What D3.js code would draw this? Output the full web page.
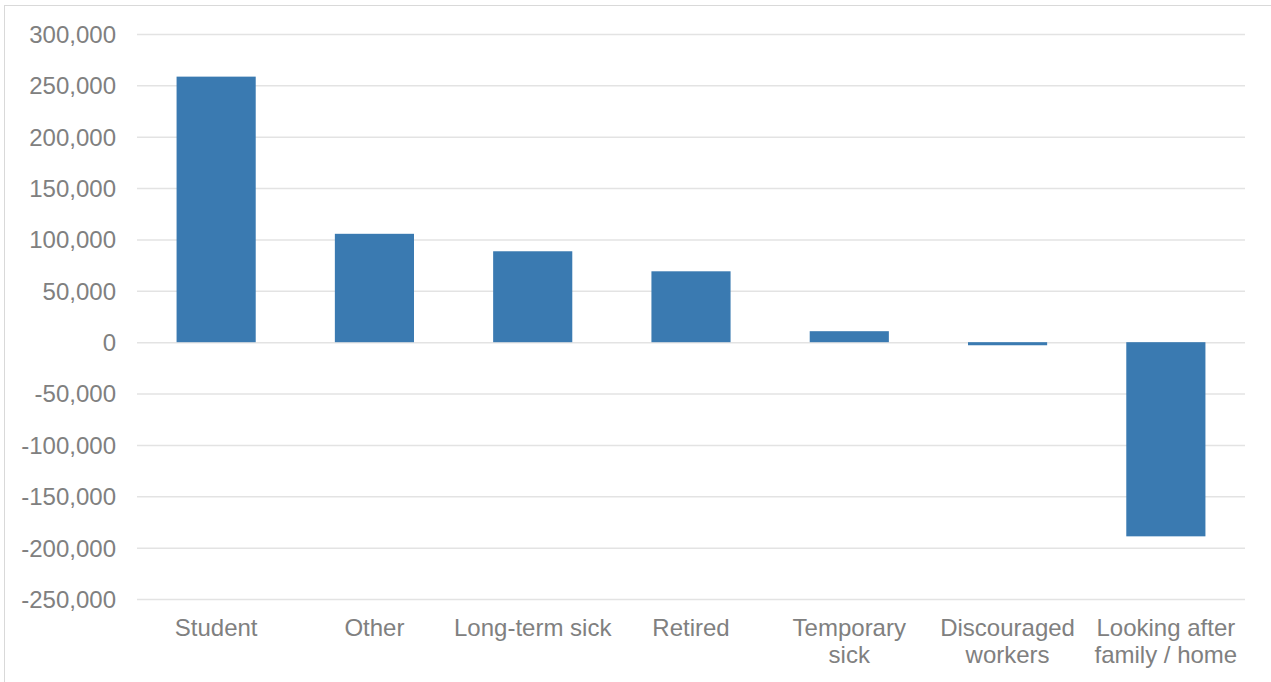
<!DOCTYPE html>
<html>
<head>
<meta charset="utf-8">
<script src="https://cdn.jsdelivr.net/npm/d3@7"></script>
<style>
  html, body { margin: 0; padding: 0; background: #fff; }
  svg { display: block; }
  text { font-family: "Liberation Sans", Arial, sans-serif; }
</style>
</head>
<body>
<svg id="chart" width="1271" height="682"></svg>
<script>
// Change by reason for economic inactivity
const categories = [
  ["Student"],
  ["Other"],
  ["Long-term sick"],
  ["Retired"],
  ["Temporary", "sick"],
  ["Discouraged", "workers"],
  ["Looking after", "family / home"]
];
const values = [258500, 105500, 88500, 69000, 10700, -3000, -189000];
const yTicks = [300000, 250000, 200000, 150000, 100000, 50000, 0,
                -50000, -100000, -150000, -200000, -250000];

const W = 1271, H = 682;
const margin = { left: 137, right: 26, top: 34, bottom: 83 };
const svg = d3.select("#chart");

// outer frame
svg.append("rect")
  .attr("x", 4.5).attr("y", 5.5)
  .attr("width", W + 10).attr("height", H + 10)
  .attr("fill", "none").attr("stroke", "#d9d9d9").attr("stroke-width", 1);

const x = d3.scaleBand()
  .domain(d3.range(categories.length))
  .range([margin.left, W - margin.right])
  .padding(0);

const y = d3.scaleLinear()
  .domain([-250000, 300000])
  .range([H - margin.bottom, margin.top]);

// thousands separator, plain hyphen for negatives
const fmt = d => d3.format(",")(d).replace("\u2212", "-");

// gridlines + tick labels
const yAxis = d3.axisLeft(y)
  .tickValues(yTicks)
  .tickSize(-(W - margin.left - margin.right))
  .tickPadding(21)
  .tickFormat(fmt);

const gy = svg.append("g")
  .attr("transform", `translate(${margin.left},0)`)
  .call(yAxis);
gy.select(".domain").remove();
gy.selectAll(".tick line")
  .attr("stroke", "#e3e3e3").attr("stroke-width", 1.5);
gy.selectAll(".tick text")
  .attr("fill", "#808080")
  .style("font-size", "24px")
  .attr("dy", "0.35em");

// bars
const barW = x.bandwidth() * 0.5;
svg.append("g").selectAll("rect")
  .data(values)
  .join("rect")
  .attr("x", (d, i) => x(i) + (x.bandwidth() - barW) / 2)
  .attr("y", d => y(Math.max(0, d)))
  .attr("width", barW)
  .attr("height", d => Math.abs(y(d) - y(0)))
  .attr("fill", "#3a7ab1");

// category labels
const gx = svg.append("g");
categories.forEach((lines, i) => {
  const t = gx.append("text")
    .attr("x", x(i) + x.bandwidth() / 2)
    .attr("y", 636)
    .attr("text-anchor", "middle")
    .attr("fill", "#808080")
    .style("font-size", "24px");
  lines.forEach((ln, j) => {
    t.append("tspan")
      .attr("x", x(i) + x.bandwidth() / 2)
      .attr("dy", j === 0 ? 0 : 27)
      .text(ln);
  });
});
</script>
</body>
</html>
